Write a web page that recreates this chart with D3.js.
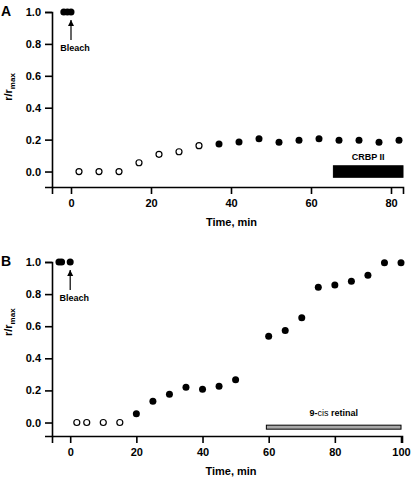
<!DOCTYPE html>
<html><head><meta charset="utf-8">
<script src="https://cdn.jsdelivr.net/npm/d3@7"></script>
<style>
body{margin:0;background:#fff;}
svg text{font-family:"Liberation Sans",Arial,Helvetica,sans-serif;font-weight:bold;fill:#000;}
</style></head><body>
<svg id="c" width="412" height="478"></svg>
<script>
// Panel A data
const aBleachT = [-1.8, -0.9, 0];
const aBleachV = [1, 1, 1];
const aOpenT = [2, 7, 12, 17, 22, 27, 32];
const aOpenV = [0, 0, 0, 0.055, 0.108, 0.124, 0.162];
const aFillT = [37, 42, 47, 52, 57, 62, 67, 72, 77, 82];
const aFillV = [0.172, 0.185, 0.206, 0.183, 0.196, 0.206, 0.196, 0.196, 0.183, 0.196];
const aBar = [65.6, 83];
// Panel B data
const bBleachT = [-3.4, -2.6, 0];
const bBleachV = [1, 1, 1];
const bOpenT = [2, 5, 10, 15];
const bOpenV = [0, 0, 0, 0];
const bFillT = [20, 25, 30, 35, 40, 45, 50, 60, 65, 70, 75, 80, 85, 90, 95, 100];
const bFillV = [0.055, 0.132, 0.176, 0.219, 0.207, 0.226, 0.267, 0.537, 0.574, 0.653, 0.842, 0.857, 0.88, 0.917, 0.996, 0.996];
const bBar = [59.3, 100];
const yTicks = [0, 0.2, 0.4, 0.6, 0.8, 1.0];
const aXTicks = [0, 20, 40, 60, 80];
const bXTicks = [0, 20, 40, 60, 80, 100];

const svg = d3.select("#c");
const defs = svg.append("defs");
defs.append("marker").attr("id","ah").attr("viewBox","0 0 10 10").attr("refX",10).attr("refY",5)
  .attr("markerWidth",6).attr("markerHeight",7).attr("markerUnits","userSpaceOnUse").attr("orient","auto")
  .append("path").attr("d","M0,0L10,5L0,10Z").attr("fill","#000");

function panel(cfg){
  const g = svg.append("g");
  const x = d3.scaleLinear().domain(cfg.xd).range(cfg.xr);
  const y = d3.scaleLinear().domain(cfg.yd).range(cfg.yr);
  const ya = g.append("g").attr("transform",`translate(${cfg.xr[0]},0)`)
    .call(d3.axisLeft(y).tickValues(yTicks).tickFormat(d3.format(".1f")).tickSizeOuter(0).tickSize(7).tickPadding(4));
  const xa = g.append("g").attr("transform",`translate(0,${cfg.yr[0]})`)
    .call(d3.axisBottom(x).tickValues(cfg.xt).tickFormat(d3.format("d")).tickSizeOuter(0).tickSize(7).tickPadding(5));
  [ya,xa].forEach(a=>{
    a.selectAll("path,line").attr("stroke","#000").attr("stroke-width",1.6);
    a.selectAll("text").attr("font-size",11).attr("font-weight","bold").attr("font-family","Liberation Sans, Arial, sans-serif").attr("fill","#000");
  });
  // axis titles
  g.append("text").attr("x",(cfg.xr[0]+cfg.xr[1])/2+4).attr("y",cfg.yr[0]+39).attr("text-anchor","middle").attr("font-size",11).text("Time, min");
  const yl = g.append("text").attr("transform",`translate(12,${y(cfg.ylabV)}) rotate(-90)`).attr("text-anchor","middle").attr("font-size",11);
  yl.append("tspan").text("r/r");
  yl.append("tspan").attr("font-size",8).attr("dy",3).text("max");
  g.append("text").attr("x",1).attr("y",cfg.yr[1]+4).attr("font-size",14).text(cfg.label);
  // bar
  const by = y(cfg.barY);
  g.append("rect").attr("x",x(cfg.bar[0])).attr("width",x(cfg.bar[1])-x(cfg.bar[0]))
    .attr("y",by-cfg.barH/2).attr("height",cfg.barH).attr("fill",cfg.barFill).attr("stroke","#000").attr("stroke-width",1);
  const bt = g.append("text").attr("x",(x(cfg.bar[0])+x(cfg.bar[1]))/2+cfg.barLabelDx).attr("y",by-cfg.barLabelDy).attr("text-anchor","middle").attr("font-size",9);
  cfg.barLabel.forEach(p=>bt.append("tspan").attr("font-weight",p[1]).text(p[0]));
  // bleach arrow
  g.append("line").attr("x1",x(0)).attr("x2",x(0)).attr("y1",y(1)+28).attr("y2",y(1)+8)
    .attr("stroke","#000").attr("stroke-width",1.2).attr("marker-end","url(#ah)");
  g.append("text").attr("x",x(0)+4).attr("y",y(1)+39).attr("text-anchor","middle").attr("font-size",9).text("Bleach");
  // points
  const filled = cfg.bleachT.map((t,i)=>[t,cfg.bleachV[i]]).concat(cfg.fillT.map((t,i)=>[t,cfg.fillV[i]]));
  g.selectAll(".f").data(filled).join("circle").attr("cx",d=>x(d[0])).attr("cy",d=>y(d[1])).attr("r",3.5).attr("fill","#000");
  g.selectAll(".o").data(cfg.openT.map((t,i)=>[t,cfg.openV[i]])).join("circle")
    .attr("cx",d=>x(d[0])).attr("cy",d=>y(d[1])).attr("r",3).attr("fill","#fff").attr("stroke","#000").attr("stroke-width",1.2);
}

panel({label:"A", xd:[-4.75,83], xr:[52,403], yd:[-0.097,1], yr:[187,12], xt:aXTicks, ylabV:0.53,
  bleachT:aBleachT, bleachV:aBleachV, openT:aOpenT, openV:aOpenV, fillT:aFillT, fillV:aFillV,
  bar:aBar, barY:0.0, barH:11.5, barFill:"#000", barLabel:[["CRBP II","bold"]], barLabelDx:0, barLabelDy:12});
panel({label:"B", xd:[-5.5,100.3], xr:[52,402], yd:[-0.084,1], yr:[436,262], xt:bXTicks, ylabV:0.625,
  bleachT:bBleachT, bleachV:bBleachV, openT:bOpenT, openV:bOpenV, fillT:bFillT, fillV:bFillV,
  bar:bBar, barY:-0.029, barH:4, barFill:"#a8a8a8", barLabel:[["9-","bold"],["cis ","normal"],["retinal","bold"]], barLabelDx:0, barLabelDy:11});
</script>
</body></html>
